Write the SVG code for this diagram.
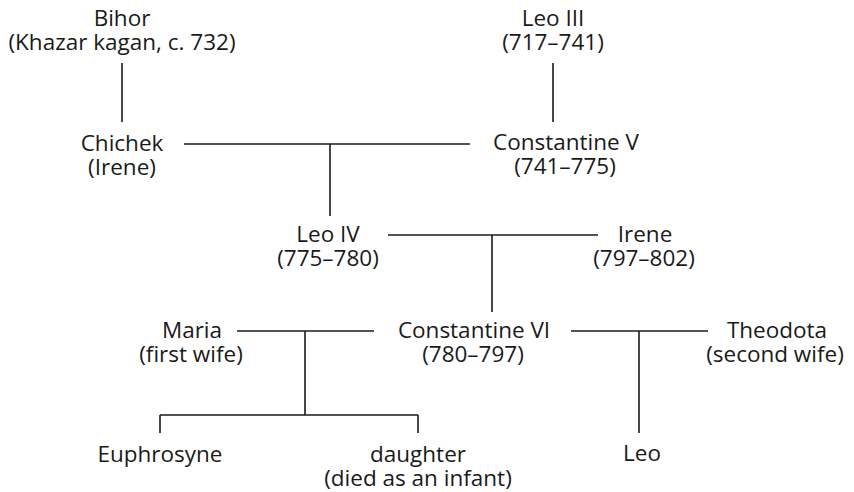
<svg xmlns="http://www.w3.org/2000/svg" width="854" height="492" viewBox="0 0 854 492">
<style>
text{font-family:"Open Sans",Lato,sans-serif;font-size:22.5px;fill:#1a1a1a;text-anchor:middle;font-variant-ligatures:none}
.c line{stroke:#1a1a1a;stroke-width:1.6;fill:none}
</style>
<rect width="854" height="492" fill="#fff"/>
<g class="c" id="connectors">
<line x1="122" y1="63" x2="122" y2="122"/>
<line x1="553" y1="63" x2="553" y2="122"/>
<line x1="184" y1="144" x2="470" y2="144"/>
<line x1="330" y1="144" x2="330" y2="216"/>
<line x1="388" y1="235" x2="598" y2="235"/>
<line x1="492" y1="235" x2="492" y2="312"/>
<line x1="237" y1="331" x2="374" y2="331"/>
<line x1="305" y1="331" x2="305" y2="415"/>
<line x1="160" y1="415" x2="418" y2="415"/>
<line x1="160" y1="415" x2="160" y2="433"/>
<line x1="418" y1="415" x2="418" y2="433"/>
<line x1="571" y1="331" x2="708" y2="331"/>
<line x1="639" y1="331" x2="639" y2="433"/>
</g>
<g id="bihor"><text x="122" y="26">Bihor<tspan x="122" dy="24">(Khazar kagan, c. 732)</tspan></text></g>
<g id="leo3"><text x="553" y="26">Leo III<tspan x="553" dy="24">(717–741)</tspan></text></g>
<g id="chichek"><text x="122" y="151">Chichek<tspan x="122" dy="24">(Irene)</tspan></text></g>
<g id="const5"><text x="566" y="150">Constantine V<tspan x="565" dy="24">(741–775)</tspan></text></g>
<g id="leo4"><text x="328" y="242">Leo IV<tspan x="328" dy="24">(775–780)</tspan></text></g>
<g id="irene"><text x="645" y="242">Irene<tspan x="644" dy="24">(797–802)</tspan></text></g>
<g id="maria"><text x="192" y="338">Maria<tspan x="191" dy="24">(first wife)</tspan></text></g>
<g id="const6"><text x="474" y="338">Constantine VI<tspan x="473" dy="24">(780–797)</tspan></text></g>
<g id="theodota"><text x="777" y="338">Theodota<tspan x="775" dy="24">(second wife)</tspan></text></g>
<g id="euphrosyne"><text x="160" y="462">Euphrosyne</text></g>
<g id="daughter"><text x="418" y="462">daughter<tspan x="418" dy="24">(died as an infant)</tspan></text></g>
<g id="leo"><text x="642" y="461">Leo</text></g>
</svg>
